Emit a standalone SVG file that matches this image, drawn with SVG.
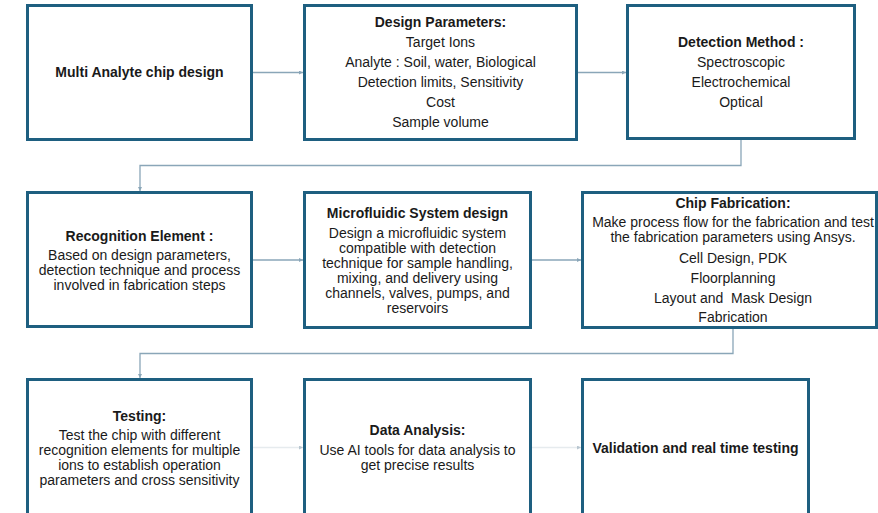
<svg xmlns="http://www.w3.org/2000/svg" width="878" height="513" viewBox="0 0 878 513">
<defs>
<marker id="ah" markerWidth="4" markerHeight="4" refX="4" refY="2" orient="auto" markerUnits="userSpaceOnUse">
<path d="M0,0 L4,2 L0,4 Z" fill="#8AA6B8"/>
</marker>
<marker id="ahf" markerWidth="4" markerHeight="4" refX="4" refY="2" orient="auto" markerUnits="userSpaceOnUse">
<path d="M0,0 L4,2 L0,4 Z" fill="#B8C6D0"/>
</marker>
<style>
.box{fill:#FFFFFF;stroke:#1E5F80;stroke-width:3}
.t{font-family:"Liberation Sans",Arial,sans-serif;font-size:14px;fill:#1a1a1a;text-anchor:middle}
.b{font-weight:bold}
.c{fill:none;stroke:#8AA6B8;stroke-width:1.3}
.cf{fill:none;stroke:#E6EBEE;stroke-width:1.3}
</style>
</defs>
<rect width="878" height="513" fill="#FFFFFF"/>
<g id="connectors">
<path class="c" d="M252,72.5 H303" marker-end="url(#ah)"/>
<path class="c" d="M577,72.5 H626" marker-end="url(#ah)"/>
<path class="c" d="M741,140 V165.5 H140 V191" marker-end="url(#ah)"/>
<path class="c" d="M252,260 H303" marker-end="url(#ah)"/>
<path class="c" d="M531,260 H581" marker-end="url(#ah)"/>
<path class="c" d="M733,328 V353.5 H140 V378" marker-end="url(#ah)"/>
<path class="cf" d="M252,447.5 H303" marker-end="url(#ahf)"/>
<path class="cf" d="M531,447.5 H581" marker-end="url(#ahf)"/>
</g>
<g id="n1">
<rect class="box" x="27.5" y="5.5" width="224" height="134"/>
<text class="t b" x="139.5" y="77">Multi Analyte chip design</text>
</g>
<g id="n2">
<rect class="box" x="304.5" y="5.5" width="272" height="134"/>
<text class="t b" x="440.5" y="27">Design Parameters:</text>
<text class="t" x="440.5" y="47">Target Ions</text>
<text class="t" x="440.5" y="67">Analyte : Soil, water, Biological</text>
<text class="t" x="440.5" y="87">Detection limits, Sensitivity</text>
<text class="t" x="440.5" y="107">Cost</text>
<text class="t" x="440.5" y="127">Sample volume</text>
</g>
<g id="n3">
<rect class="box" x="627.5" y="5.5" width="227" height="133"/>
<text class="t b" x="741" y="47">Detection Method :</text>
<text class="t" x="741" y="67">Spectroscopic</text>
<text class="t" x="741" y="87">Electrochemical</text>
<text class="t" x="741" y="107">Optical</text>
</g>
<g id="n4">
<rect class="box" x="27.5" y="192.5" width="224" height="134"/>
<text class="t b" x="139.5" y="241">Recognition Element :</text>
<text class="t" x="139.5" y="260">Based on design parameters,</text>
<text class="t" x="139.5" y="275">detection technique and process</text>
<text class="t" x="139.5" y="290">involved in fabrication steps</text>
</g>
<g id="n5">
<rect class="box" x="304.5" y="192.5" width="226" height="135"/>
<text class="t b" x="417.5" y="218">Microfluidic System design</text>
<text class="t" x="417.5" y="238">Design a microfluidic system</text>
<text class="t" x="417.5" y="253">compatible with detection</text>
<text class="t" x="417.5" y="268">technique for sample handling,</text>
<text class="t" x="417.5" y="283">mixing, and delivery using</text>
<text class="t" x="417.5" y="298">channels, valves, pumps, and</text>
<text class="t" x="417.5" y="313">reservoirs</text>
</g>
<g id="n6">
<rect class="box" x="582.5" y="192.5" width="294" height="135"/>
<text class="t b" x="733" y="208">Chip Fabrication:</text>
<text class="t" x="733" y="227">Make process flow for the fabrication and test</text>
<text class="t" x="733" y="242">the fabrication parameters using Ansys.</text>
<text class="t" x="733" y="263">Cell Design, PDK</text>
<text class="t" x="733" y="283">Floorplanning</text>
<text class="t" x="733" y="303" xml:space="preserve">Layout and  Mask Design</text>
<text class="t" x="733" y="322">Fabrication</text>
</g>
<g id="n7">
<rect class="box" x="27.5" y="379.5" width="224" height="140"/>
<text class="t b" x="139.5" y="421">Testing:</text>
<text class="t" x="139.5" y="440">Test the chip with different</text>
<text class="t" x="139.5" y="455">recognition elements for multiple</text>
<text class="t" x="139.5" y="470">ions to establish operation</text>
<text class="t" x="139.5" y="485">parameters and cross sensitivity</text>
</g>
<g id="n8">
<rect class="box" x="304.5" y="379.5" width="226" height="140"/>
<text class="t b" x="417.5" y="435">Data Analysis:</text>
<text class="t" x="417.5" y="455">Use AI tools for data analysis to</text>
<text class="t" x="417.5" y="470">get precise results</text>
</g>
<g id="n9">
<rect class="box" x="582.5" y="379.5" width="226" height="140"/>
<text class="t b" x="695.5" y="453">Validation and real time testing</text>
</g>
</svg>
